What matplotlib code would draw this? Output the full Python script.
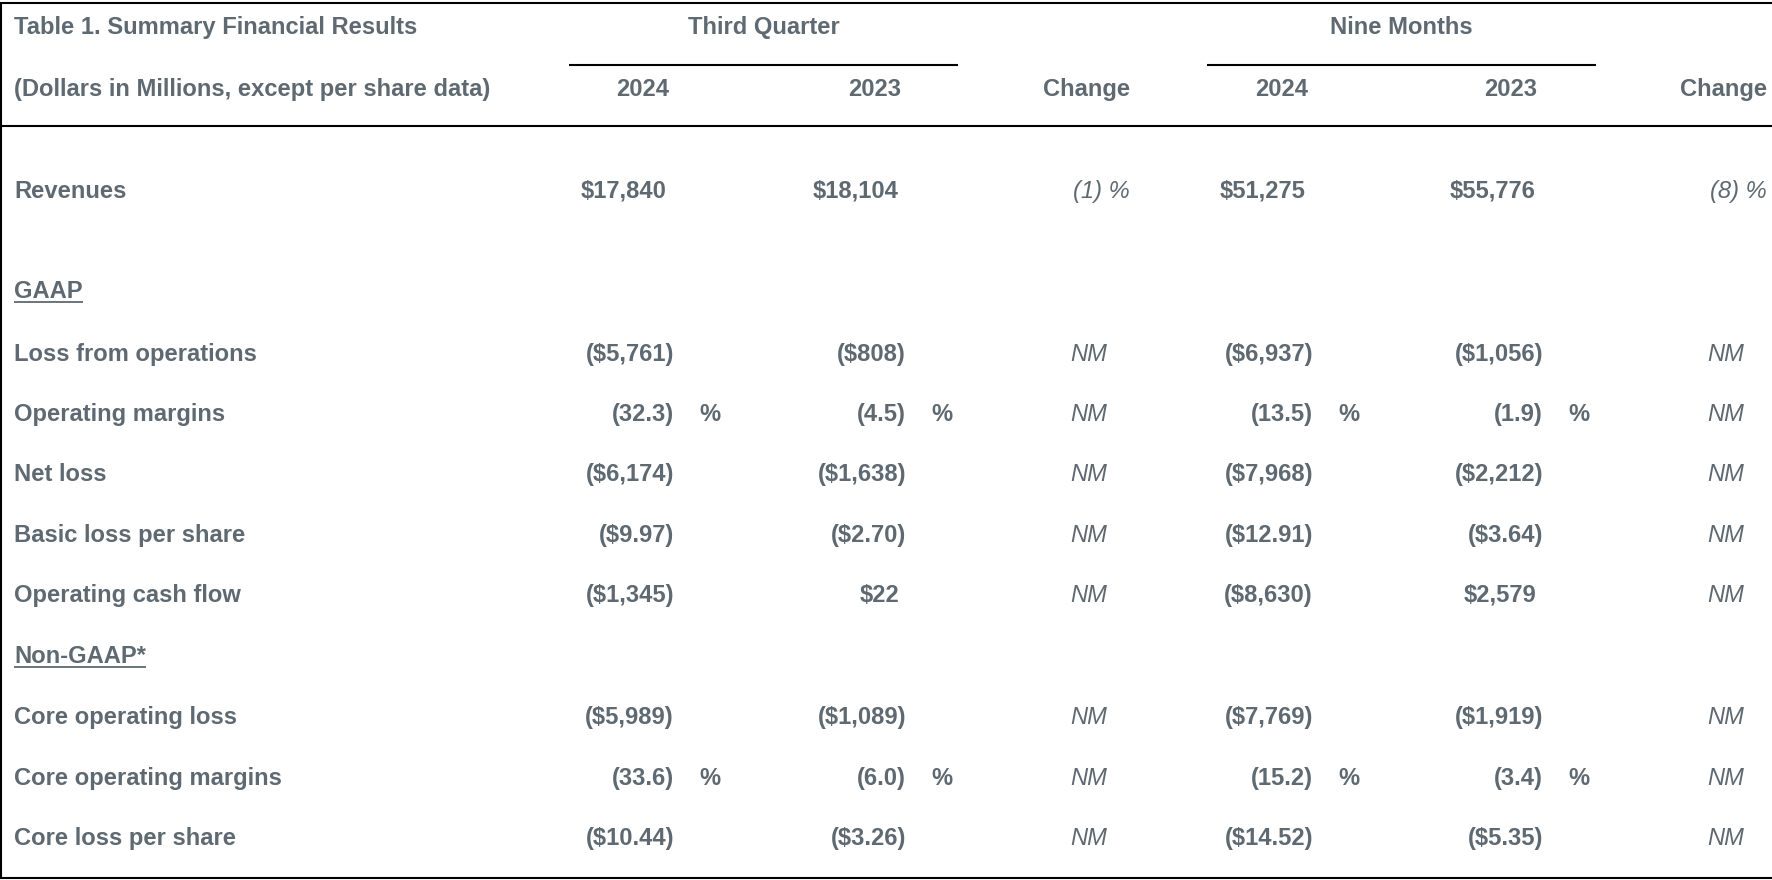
import matplotlib
matplotlib.use("Agg")
import matplotlib.pyplot as plt

# ---------------- data ----------------
title = "Table 1. Summary Financial Results"
subtitle = "(Dollars in Millions, except per share data)"
period_headers = ["Third Quarter", "Nine Months"]
col_headers = ["2024", "2023", "Change", "2024", "2023", "Change"]

row_labels = ["Revenues", "GAAP", "Loss from operations", "Operating margins", "Net loss",
              "Basic loss per share", "Operating cash flow", "Non-GAAP*",
              "Core operating loss", "Core operating margins", "Core loss per share"]
section_rows = ["GAAP", "Non-GAAP*"]
pct_rows = ["Operating margins", "Core operating margins"]

q3_2024 = ["$17,840", "", "($5,761)", "(32.3)", "($6,174)", "($9.97)", "($1,345)", "",
           "($5,989)", "(33.6)", "($10.44)"]
q3_2023 = ["$18,104", "", "($808)", "(4.5)", "($1,638)", "($2.70)", "$22", "",
           "($1,089)", "(6.0)", "($3.26)"]
q3_change = ["(1) %", "", "NM", "NM", "NM", "NM", "NM", "", "NM", "NM", "NM"]
nm_2024 = ["$51,275", "", "($6,937)", "(13.5)", "($7,968)", "($12.91)", "($8,630)", "",
           "($7,769)", "(15.2)", "($14.52)"]
nm_2023 = ["$55,776", "", "($1,056)", "(1.9)", "($2,212)", "($3.64)", "$2,579", "",
           "($1,919)", "(3.4)", "($5.35)"]
nm_change = ["(8) %", "", "NM", "NM", "NM", "NM", "NM", "", "NM", "NM", "NM"]

# ---------------- layout / style ----------------
W, H = 1772, 880
GREY = "#5f6971"
FONT = "Liberation Sans"
FS = 17.1

fig = plt.figure(figsize=(W / 100, H / 100), dpi=100)
ax = fig.add_axes([0, 0, 1, 1])
ax.set_xlim(0, W)
ax.set_ylim(H, 0)
ax.axis("off")

BASE = 8.7  # baseline offset from visual centre
row_y = [189, 289, 352, 412, 472, 533, 593, 654, 715, 776, 836]

value_cols = [q3_2024, q3_2023, nm_2024, nm_2023]
value_right = [674, 906, 1313, 1543]
change_cols = [q3_change, nm_change]
change_right = [1130, 1767]
header_centers = [643, 875, None, 1282, 1511, None]
span_lines = [(569, 958), (1207, 1596)]


def txt(x, y, s, ha="left", style="normal", weight="bold"):
    return ax.text(x, y + BASE, s, ha=ha, va="baseline", color=GREY, fontsize=FS,
                   family=FONT, fontweight=weight, fontstyle=style)


# borders and rules
lw = 1.5
ax.plot([0, W], [3, 3], color="black", lw=lw, solid_capstyle="butt")
ax.plot([1, 1], [3, 878], color="black", lw=lw, solid_capstyle="butt")
ax.plot([0, W], [878, 878], color="black", lw=lw, solid_capstyle="butt")
ax.plot([0, W], [126, 126], color="black", lw=lw, solid_capstyle="butt")
for (x0, x1) in span_lines:
    ax.plot([x0, x1], [65, 65], color="black", lw=lw, solid_capstyle="butt")

# headers
txt(14, 25, title)
txt(14, 87, subtitle)
for (x0, x1), ph in zip(span_lines, period_headers):
    txt((x0 + x1) / 2, 25, ph, ha="center")
for i, h in enumerate(col_headers):
    if h == "Change":
        txt(change_right[0 if i < 3 else 1], 87, h, ha="right")
    else:
        txt(header_centers[i], 87, h, ha="center")

fig.canvas.draw()
renderer = fig.canvas.get_renderer()

for r, label in enumerate(row_labels):
    y = row_y[r]
    t = txt(14, y, label)
    if label in section_rows:
        bb = t.get_window_extent(renderer=renderer)
        x0, x1 = bb.x0, bb.x1
        ax.plot([x0, x1], [y + 13, y + 13], color=GREY, lw=1.3, solid_capstyle="butt")
    for col, xr in zip(value_cols, value_right):
        v = col[r]
        if not v:
            continue
        if v.startswith("("):
            txt(xr, y, v, ha="right")
        else:
            txt(xr - 7, y, v, ha="right")
        if label in pct_rows:
            txt(xr + 25, y, "%", ha="left")
    for col, xr in zip(change_cols, change_right):
        v = col[r]
        if not v:
            continue
        if v == "NM":
            txt(xr - 23, y, v, ha="right", style="italic", weight="normal")
        else:
            txt(xr, y, v, ha="right", style="italic", weight="normal")

fig.savefig("out.png", dpi=100, facecolor="white")
